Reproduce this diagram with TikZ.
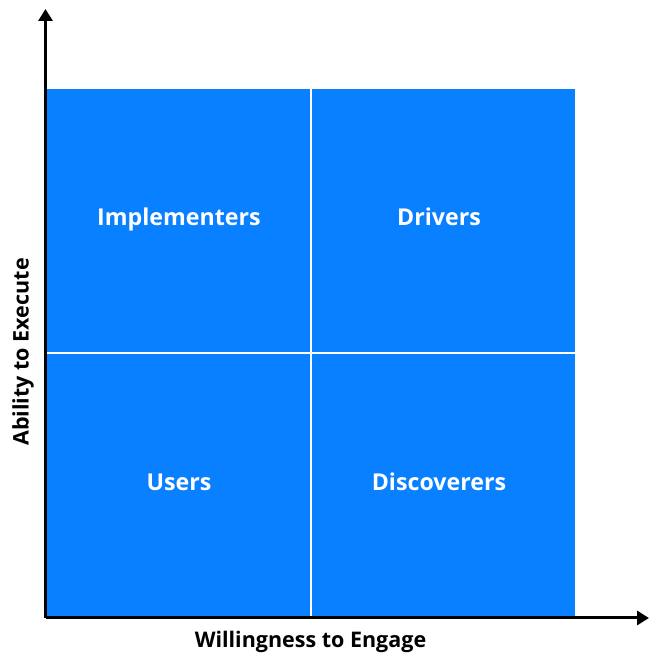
\documentclass[tikz,border=0pt]{standalone}
\usepackage{fontspec}
\setmainfont{Open Sans}
\usetikzlibrary{arrows.meta}
\definecolor{quadblue}{RGB}{8,128,255}
\begin{document}
\begin{tikzpicture}[x=1pt,y=1pt, line join=miter, >={Triangle[length=12pt,width=14pt]},
	quad/.style={fill=quadblue, minimum width=263pt, minimum height=263pt, inner sep=0pt},
	quadlabel/.style={text=white, font=\fontsize{23.2}{27}\selectfont\bfseries, text height=16.5pt, text depth=0pt, inner sep=0pt},
	axislabel/.style={font=\fontsize{21.5}{25}\selectfont\bfseries}]
	\useasboundingbox (0,0) rectangle (649,654);
	% quadrants
	\node[quad] (impl) at (178.5,433.5) {};
	\node[quad] (drv) at (443.5,433.5) {};
	\node[quad] (usr) at (178.5,168.5) {};
	\node[quad] (disc) at (443.5,168.5) {};
	\node[quadlabel] at (179,437) {Implementers};
	\node[quadlabel] at (439,437) {Drivers};
	\node[quadlabel] at (179,172) {Users};
	\node[quadlabel] at (439,172) {Discoverers};
	% axes
	\coordinate (O) at (45.5,36);
	\coordinate (ytip) at (45.5,645);
	\coordinate (xtip) at (649,36);
	\draw[->, line width=3pt] (O) -- (ytip);
	\draw[->, line width=3pt] (O) -- (xtip);
	\node[axislabel] (xlab) at (310.5,12) {Willingness to Engage};
	\node[axislabel, rotate=90] (ylab) at (23,302) {Ability to Execute};
\end{tikzpicture}
\end{document}
